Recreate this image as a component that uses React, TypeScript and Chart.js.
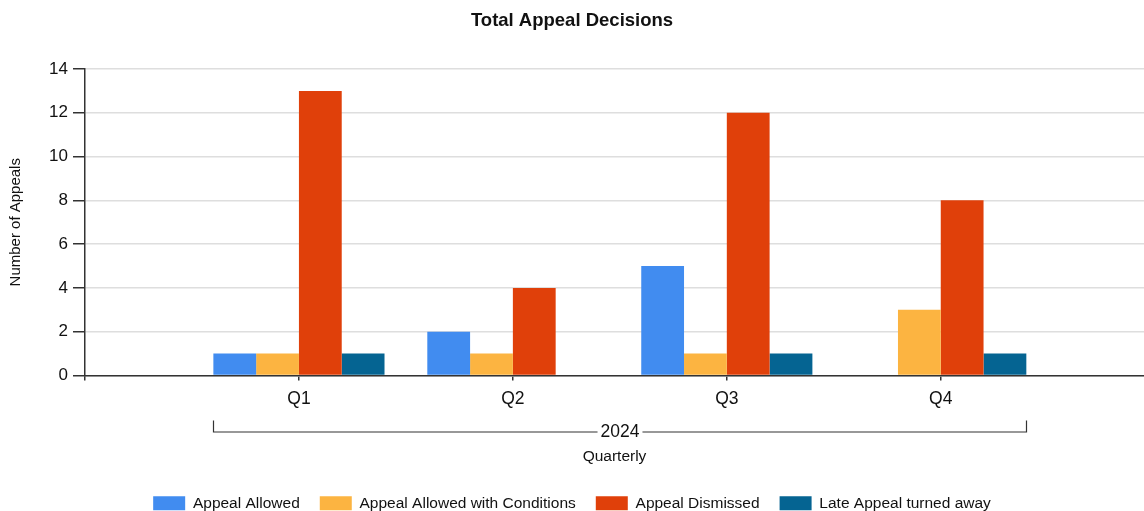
import React, { useEffect, useRef } from "react";
import { Chart, registerables } from "chart.js";

Chart.register(...registerables);

const QUARTERS = ["Q1", "Q2", "Q3", "Q4"];
const YEAR_LABEL = "2024";
const APPEAL_ALLOWED = [1, 2, 5, null];
const ALLOWED_WITH_CONDITIONS = [1, 1, 1, 3];
const APPEAL_DISMISSED = [13, 4, 12, 8];
const LATE_APPEAL = [1, null, 1, 1];
const Y_TICKS = [0, 2, 4, 6, 8, 10, 12, 14];

const SERIES = [
  { label: "Appeal Allowed", values: APPEAL_ALLOWED, color: "#418CF0" },
  { label: "Appeal Allowed with Conditions", values: ALLOWED_WITH_CONDITIONS, color: "#FCB441" },
  { label: "Appeal Dismissed", values: APPEAL_DISMISSED, color: "#E0400A" },
  { label: "Late Appeal turned away", values: LATE_APPEAL, color: "#056492" },
];

const FONT = "'Liberation Sans', Arial, sans-serif";

const bracketPlugin = {
  id: "yearBracket",
  afterDraw(chart: any) {
    const x = chart.scales.x;
    const unit = x.getPixelForValue(1) - x.getPixelForValue(0);
    const left = Math.round(x.getPixelForValue(0) - 0.4 * unit) + 0.5;
    const right = Math.round(x.getPixelForValue(QUARTERS.length - 1) + 0.4 * unit) + 0.5;
    const top = x.top + 45;
    const y = x.top + 56.5;
    const ctx = chart.ctx;
    ctx.save();
    ctx.font = `17.5px ${FONT}`;
    const mid = (left + right) / 2;
    const tw = ctx.measureText(YEAR_LABEL).width;
    ctx.strokeStyle = "#333";
    ctx.lineWidth = 1.2;
    ctx.beginPath();
    ctx.moveTo(left, top);
    ctx.lineTo(left, y);
    ctx.lineTo(mid - tw / 2 - 3, y);
    ctx.moveTo(mid + tw / 2 + 3, y);
    ctx.lineTo(right, y);
    ctx.lineTo(right, top);
    ctx.stroke();
    ctx.fillStyle = "#111";
    ctx.textAlign = "center";
    ctx.textBaseline = "middle";
    ctx.fillText(YEAR_LABEL, mid, y + 0.5);
    ctx.restore();
  },
};

export default function App() {
  const ref = useRef<HTMLCanvasElement | null>(null);

  useEffect(() => {
    if (!ref.current) return;
    const chart = new Chart(ref.current, {
      type: "bar",
      data: {
        datasets: SERIES.map((s) => ({
          label: s.label,
          data: s.values.map((v, i) => ({ x: i, y: v })),
          backgroundColor: s.color,
          borderWidth: 0,
          categoryPercentage: 0.8,
          barPercentage: 1,
        })),
      },
      plugins: [bracketPlugin],
      options: {
        animation: false,
        responsive: true,
        maintainAspectRatio: false,
        layout: { padding: { left: 0, right: 0, top: 0, bottom: 0 } },
        plugins: {
          title: {
            display: true,
            text: "Total Appeal Decisions",
            color: "#111",
            font: { family: FONT, size: 18.5, weight: "bold" },
            padding: { top: 10, bottom: 36.8 },
          },
          legend: {
            position: "bottom",
            labels: {
              color: "#111",
              font: { family: FONT, size: 15.5 },
              boxWidth: 32,
              boxHeight: 14,
              padding: 20,
            },
          },
          tooltip: { enabled: false },
        },
        scales: {
          x: {
            type: "linear",
            min: -1,
            max: 3.95,
            offset: false,
            afterBuildTicks(scale: any) {
              scale.ticks = [{ value: -1 }, ...QUARTERS.map((_, i) => ({ value: i }))];
            },
            afterFit(scale: any) {
              scale.height = 100;
            },
            ticks: {
              color: "#111",
              font: { family: FONT, size: 17.5 },
              padding: 8,
              callback: (v: any) => QUARTERS[v] ?? "",
              maxRotation: 0,
            },
            grid: { offset: false, drawOnChartArea: false, tickLength: 5, tickColor: "#333", lineWidth: 1.5 },
            border: { color: "#333", width: 1.5 },
            title: {
              display: true,
              text: "Quarterly",
              color: "#111",
              font: { family: FONT, size: 15.5 },
              padding: { top: 0, bottom: 9.7 },
            },
          },
          y: {
            min: 0,
            max: 14,
            afterBuildTicks(scale: any) {
              scale.ticks = Y_TICKS.map((v) => ({ value: v }));
            },
            afterFit(scale: any) {
              scale.width = 85;
            },
            ticks: {
              color: "#111",
              font: { family: FONT, size: 17 },
              padding: 5,
            },
            grid: { color: "#DEDEDE", tickColor: "#333", tickLength: 12, lineWidth: 1.5 },
            border: { color: "#333", width: 1.5 },
            title: {
              display: true,
              text: "Number of Appeals",
              color: "#111",
              font: { family: FONT, size: 15 },
              padding: { top: 7, bottom: 4 },
            },
          },
        },
      },
    });
    return () => chart.destroy();
  }, []);

  return (
    <div style={{ position: "fixed", left: 0, top: 0, width: 1144, height: 511, overflow: "hidden", background: "#fff" }}>
      <div style={{ position: "relative", width: 1144, height: 521 }}>
        <canvas ref={ref} />
      </div>
    </div>
  );
}
